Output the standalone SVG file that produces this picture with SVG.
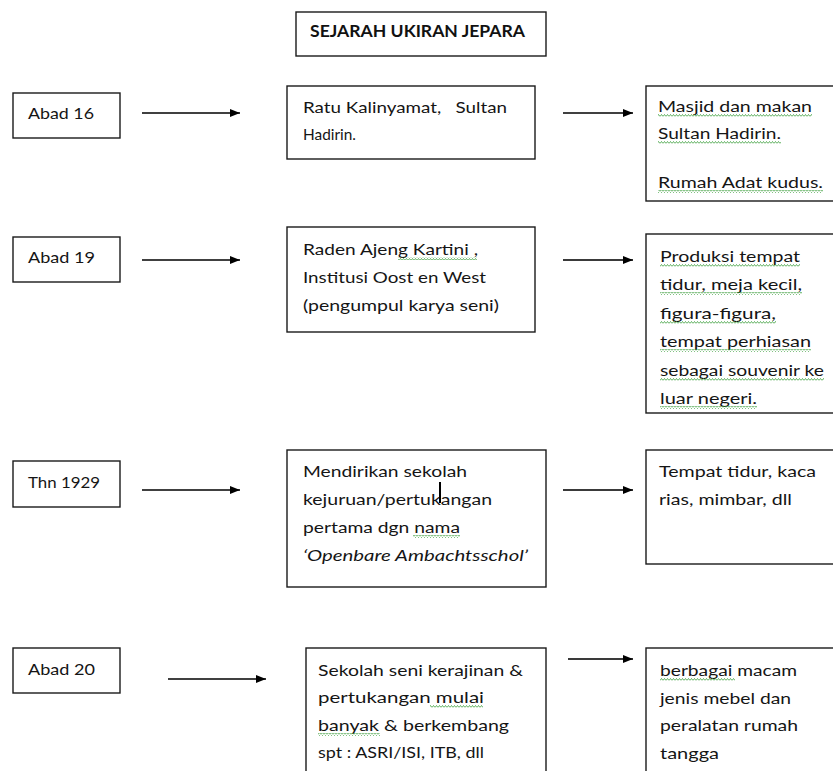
<svg xmlns="http://www.w3.org/2000/svg" width="833" height="771" viewBox="0 0 833 771">
<defs>
<style>
.box{fill:#fff;stroke:#1a1a1a;stroke-width:1.4}
.t{font-family:Lato,"Liberation Sans",sans-serif;font-size:16px;fill:#151515}
.ti{font-family:Lato,"Liberation Sans",sans-serif;font-size:17px;font-weight:bold;fill:#111}
.it{font-style:italic}
.a1{stroke:#000;stroke-width:1.4;fill:none}
.a2{stroke:#3a3a3a;stroke-width:2;fill:none}
.sq{fill:url(#wavy)}
</style>
<pattern id="wavy" patternUnits="userSpaceOnUse" width="3" height="3">
<path d="M0,2.5 L1.5,0.5 L3,2.5" fill="none" stroke="#3a9d3a" stroke-width="0.8"/>
</pattern>
<marker id="ah" markerUnits="userSpaceOnUse" markerWidth="10" markerHeight="10" viewBox="0 0 10 10" refX="10" refY="5" orient="auto">
<path d="M0,1 L10,5 L0,9 Z" fill="#000"/>
</marker>
</defs>
<rect width="833" height="771" fill="#fff"/>

<g id="title">
<rect class="box" x="296" y="12" width="250" height="44"/>
<text class="ti" x="310" y="37" textLength="215" lengthAdjust="spacingAndGlyphs">SEJARAH UKIRAN JEPARA</text>
</g>

<g id="connectors">
<line class="a1" x1="142" y1="113" x2="240" y2="113" marker-end="url(#ah)"/>
<line class="a1" x1="563" y1="113" x2="633" y2="113" marker-end="url(#ah)"/>
<line class="a1" x1="142" y1="260" x2="240" y2="260" marker-end="url(#ah)"/>
<line class="a2" x1="563" y1="260" x2="633" y2="260" marker-end="url(#ah)"/>
<line class="a1" x1="142" y1="490" x2="240" y2="490" marker-end="url(#ah)"/>
<line class="a2" x1="563" y1="490" x2="633" y2="490" marker-end="url(#ah)"/>
<line class="a1" x1="168" y1="679" x2="266" y2="679" marker-end="url(#ah)"/>
<line class="a2" x1="568" y1="659" x2="633" y2="659" marker-end="url(#ah)"/>
</g>

<g id="abad16">
<rect class="box" x="13" y="93" width="107" height="45"/>
<text class="t" x="28" y="119" textLength="66" lengthAdjust="spacingAndGlyphs">Abad 16</text>
</g>
<g id="ratu">
<rect class="box" x="287" y="86" width="248" height="73"/>
<text class="t" x="303" y="113" xml:space="preserve" textLength="204" lengthAdjust="spacingAndGlyphs">Ratu Kalinyamat,   Sultan</text>
<text class="t" x="303" y="140" textLength="53" lengthAdjust="spacingAndGlyphs">Hadirin.</text>
</g>
<g id="masjid">
<rect class="box" x="646" y="86" width="210" height="115"/>
<text class="t" x="658" y="112" textLength="154" lengthAdjust="spacingAndGlyphs">Masjid dan makan</text>
<text class="t" x="658" y="139" textLength="123" lengthAdjust="spacingAndGlyphs">Sultan Hadirin.</text>
<text class="t" x="658" y="188" textLength="165" lengthAdjust="spacingAndGlyphs">Rumah Adat kudus.</text>
<rect class="sq" x="658" y="114" width="154" height="3"/>
<rect class="sq" x="658" y="141" width="123" height="3"/>
<rect class="sq" x="658" y="190" width="165" height="3"/>
</g>

<g id="abad19">
<rect class="box" x="13" y="237" width="107" height="45"/>
<text class="t" x="28" y="263" textLength="67" lengthAdjust="spacingAndGlyphs">Abad 19</text>
</g>
<g id="kartini">
<rect class="box" x="287" y="227" width="248" height="105"/>
<text class="t" x="303" y="255" textLength="175" lengthAdjust="spacingAndGlyphs">Raden Ajeng Kartini ,</text>
<text class="t" x="303" y="283" textLength="183" lengthAdjust="spacingAndGlyphs">Institusi Oost en West</text>
<text class="t" x="303" y="311" textLength="196" lengthAdjust="spacingAndGlyphs">(pengumpul karya seni)</text>
<rect class="sq" x="398" y="257" width="79" height="3"/>
</g>
<g id="produksi">
<rect class="box" x="646" y="234" width="210" height="179"/>
<text class="t" x="660" y="262" textLength="140" lengthAdjust="spacingAndGlyphs">Produksi tempat</text>
<text class="t" x="660" y="290" textLength="142" lengthAdjust="spacingAndGlyphs">tidur, meja kecil,</text>
<text class="t" x="660" y="319" textLength="116" lengthAdjust="spacingAndGlyphs">figura-figura,</text>
<text class="t" x="660" y="347" textLength="151" lengthAdjust="spacingAndGlyphs">tempat perhiasan</text>
<text class="t" x="660" y="376" textLength="164" lengthAdjust="spacingAndGlyphs">sebagai souvenir ke</text>
<text class="t" x="660" y="404" textLength="97" lengthAdjust="spacingAndGlyphs">luar negeri.</text>
<rect class="sq" x="660" y="264" width="140" height="3"/>
<rect class="sq" x="660" y="292" width="142" height="3"/>
<rect class="sq" x="660" y="321" width="116" height="3"/>
<rect class="sq" x="660" y="349" width="151" height="3"/>
<rect class="sq" x="660" y="378" width="164" height="3"/>
<rect class="sq" x="660" y="406" width="97" height="3"/>
</g>

<g id="thn1929">
<rect class="box" x="13" y="461" width="107" height="46"/>
<text class="t" x="28" y="488" textLength="72" lengthAdjust="spacingAndGlyphs">Thn 1929</text>
</g>
<g id="sekolah">
<rect class="box" x="287" y="450" width="259" height="137"/>
<text class="t" x="303" y="477" textLength="164" lengthAdjust="spacingAndGlyphs">Mendirikan sekolah</text>
<text class="t" x="303" y="505" textLength="189" lengthAdjust="spacingAndGlyphs">kejuruan/pertukangan</text>
<text class="t" x="303" y="533" textLength="157" lengthAdjust="spacingAndGlyphs">pertama dgn nama</text>
<text class="t it" x="303" y="561" textLength="225" lengthAdjust="spacingAndGlyphs">‘Openbare Ambachtsschol’</text>
<rect class="sq" x="413" y="535" width="47" height="3"/>
<line x1="440" y1="482" x2="440" y2="503" stroke="#000" stroke-width="2"/>
</g>
<g id="tempat">
<rect class="box" x="646" y="450" width="210" height="114"/>
<text class="t" x="659" y="477" textLength="157" lengthAdjust="spacingAndGlyphs">Tempat tidur, kaca</text>
<text class="t" x="659" y="505" textLength="133" lengthAdjust="spacingAndGlyphs">rias, mimbar, dll</text>
</g>

<g id="abad20">
<rect class="box" x="13" y="648" width="107" height="45"/>
<text class="t" x="28" y="675" textLength="67" lengthAdjust="spacingAndGlyphs">Abad 20</text>
</g>
<g id="seni">
<rect class="box" x="306" y="648" width="240" height="150"/>
<text class="t" x="318" y="676" textLength="205" lengthAdjust="spacingAndGlyphs">Sekolah seni kerajinan &amp;</text>
<text class="t" x="318" y="703" textLength="166" lengthAdjust="spacingAndGlyphs">pertukangan mulai</text>
<text class="t" x="318" y="731" textLength="191" lengthAdjust="spacingAndGlyphs">banyak &amp; berkembang</text>
<text class="t" x="318" y="758" textLength="166" lengthAdjust="spacingAndGlyphs">spt : ASRI/ISI, ITB, dll</text>
<rect class="sq" x="430" y="705" width="53" height="3"/>
<rect class="sq" x="318" y="733" width="62" height="3"/>
</g>
<g id="mebel">
<rect class="box" x="646" y="648" width="210" height="150"/>
<text class="t" x="660" y="676" textLength="137" lengthAdjust="spacingAndGlyphs">berbagai macam</text>
<text class="t" x="660" y="704" textLength="131" lengthAdjust="spacingAndGlyphs">jenis mebel dan</text>
<text class="t" x="660" y="731" textLength="138" lengthAdjust="spacingAndGlyphs">peralatan rumah</text>
<text class="t" x="660" y="759" textLength="59" lengthAdjust="spacingAndGlyphs">tangga</text>
<rect class="sq" x="660" y="678" width="75" height="3"/>
</g>
</svg>
